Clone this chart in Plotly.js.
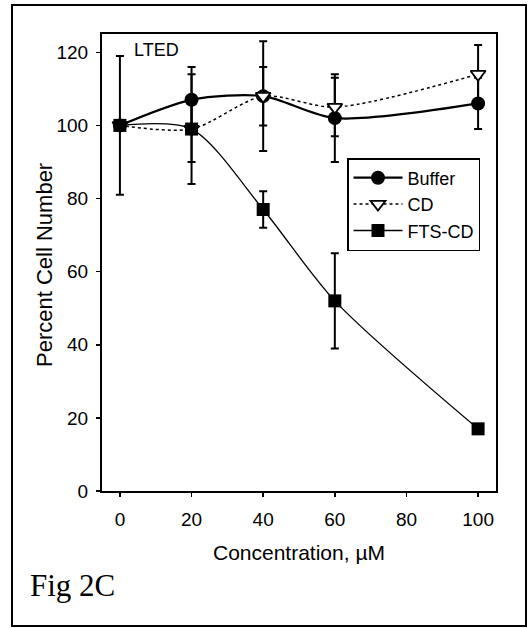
<!DOCTYPE html>
<html>
<head>
<meta charset="utf-8">
<script src="https://cdn.plot.ly/plotly-3.0.1.min.js"></script>
<style>
  html, body { margin: 0; padding: 0; background: #fff; }
  #chart { width: 529px; height: 628px; }
</style>
</head>
<body>
<div id="chart"></div>
<script>
// ---- data ----
const concentration = [0, 20, 40, 60, 100];
const bufferValues = [100, 107, 108, 102, 106];
const bufferErrors = [19, 9, 15, 12, 7];
const cdValues = [100, 99, 108, 105, 114];
const cdErrors = [0, 9, 8, 8, 8];
const ftsCdValues = [100, 99, 77, 52, 17];
const ftsCdErrors = [0, 15, 5, 13, 0];
const seriesNames = ["Buffer", "CD", "FTS-CD"];
const xTickValues = [0, 20, 40, 60, 80, 100];
const yTickValues = [0, 20, 40, 60, 80, 100, 120];

// ---- layout geometry ----
const W = 529, H = 628;
const M = { l: 102, r: 33, t: 34, b: 137 };
const pw = W - M.l - M.r, ph = H - M.t - M.b;
const px = x => (x - M.l) / pw;
const py = y => (H - M.b - y) / ph;

const sans = "Liberation Sans, Arial, Helvetica, sans-serif";
const serif = "Liberation Serif, Times New Roman, serif";

const errStyle = arr => ({ type: "data", array: arr, visible: true, color: "#000", thickness: 2, width: 4 });

const traces = [
  {
    x: concentration, y: bufferValues, name: seriesNames[0], type: "scatter", mode: "lines+markers",
    line: { color: "#000", width: 2.2, shape: "spline", smoothing: 0.8 },
    marker: { symbol: "circle", size: 14, color: "#000" },
    error_y: errStyle(bufferErrors)
  },
  {
    x: concentration, y: cdValues, name: seriesNames[1], type: "scatter", mode: "lines+markers",
    line: { color: "#000", width: 1.5, dash: "dot", shape: "spline", smoothing: 0.8 },
    marker: { symbol: "triangle-down", size: 13, color: "#fff", line: { color: "#000", width: 1.8 } },
    error_y: errStyle(cdErrors)
  },
  {
    x: concentration, y: ftsCdValues, name: seriesNames[2], type: "scatter", mode: "lines+markers",
    line: { color: "#000", width: 1.3, shape: "spline", smoothing: 0.8 },
    marker: { symbol: "square", size: 13, color: "#000" },
    error_y: errStyle(ftsCdErrors)
  }
];

const layout = {
  width: W, height: H,
  margin: M,
  paper_bgcolor: "#fff", plot_bgcolor: "#fff",
  font: { family: sans, color: "#000" },
  showlegend: true,
  legend: {
    x: px(347), y: py(158), xanchor: "left", yanchor: "top",
    bgcolor: "#fff", bordercolor: "#000", borderwidth: 1.5,
    font: { family: sans, size: 18, color: "#000" },
    itemwidth: 49, tracegroupgap: 0
  },
  xaxis: {
    range: [-5, 105], tickvals: xTickValues, ticktext: xTickValues.map(String),
    showline: true, linecolor: "#000", linewidth: 2, mirror: true,
    ticks: "outside", ticklen: 4, tickwidth: 1.5, tickcolor: "#000",
    showgrid: false, zeroline: false,
    tickfont: { family: sans, size: 19 }, ticklabelstandoff: 6,
    title: { text: "Concentration, µM", font: { family: sans, size: 21 }, standoff: 17 }
  },
  yaxis: {
    range: [0, 125], tickvals: yTickValues, ticktext: yTickValues.map(String),
    showline: true, linecolor: "#000", linewidth: 2, mirror: true,
    ticks: "outside", ticklen: 4, tickwidth: 1.5, tickcolor: "#000",
    showgrid: false, zeroline: false,
    tickfont: { family: sans, size: 19 }, ticklabelstandoff: 4
  },
  annotations: [
    { xref: "paper", yref: "paper", x: px(44), y: py(265), xanchor: "center", yanchor: "middle",
      textangle: -90, text: "Percent Cell Number", showarrow: false,
      font: { family: sans, size: 22, color: "#000" } },
    { xref: "paper", yref: "paper", x: px(132), y: py(50), xanchor: "left", yanchor: "middle",
      text: "LTED", showarrow: false, font: { family: sans, size: 18, color: "#000" } },
    { xref: "paper", yref: "paper", x: px(28), y: py(585), xanchor: "left", yanchor: "middle",
      text: "Fig 2C", showarrow: false, font: { family: serif, size: 31, color: "#000" } }
  ],
  shapes: [
    { type: "rect", xref: "paper", yref: "paper", x0: px(12), x1: px(526), y0: py(626), y1: py(5),
      line: { color: "#000", width: 2 }, fillcolor: "rgba(0,0,0,0)", layer: "below" }
  ]
};

Plotly.newPlot("chart", traces, layout, { displayModeBar: false, staticPlot: true });
</script>
</body>
</html>
